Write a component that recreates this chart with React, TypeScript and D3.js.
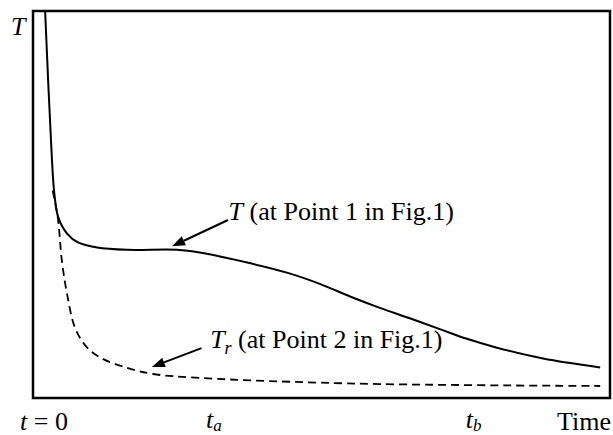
import React from "react";
import * as d3 from "d3";

const width = 613;
const height = 435;
const margin = { top: 11, right: 3, bottom: 37, left: 33 };

// time (0-100) vs temperature (0-100)
const solidTime = [2.1, 3.2, 3.7, 4.4, 5.9, 7.8, 11.1, 16.3, 25.0, 28.9, 37.1, 44.0, 49.7, 55.5, 60.1, 65.3, 70.5, 75.2, 80.4, 88.4, 98.3];
const solidTemp = [100, 64.0, 52.8, 46.6, 42.5, 40.2, 38.9, 38.3, 38.3, 37.6, 35.0, 32.4, 29.5, 25.9, 23.3, 20.6, 17.8, 15.3, 13.0, 10.2, 7.9];

const dashTime = [3.4, 4.3, 5.0, 5.9, 7.3, 9.4, 12.1, 16.3, 20.8, 28.9, 40.6, 60.1, 98.3];
const dashTemp = [53.6, 46.6, 35.5, 26.9, 18.1, 13.0, 10.1, 7.8, 6.2, 5.2, 4.4, 3.6, 3.1];

// tick labels along the time axis
const tickTimes = [0, 30, 75];
const tickNames = ["t = 0", "t_a", "t_b"];

const font = "Liberation Serif, Times New Roman, serif";
const fs = 26;

const Arrow = ({ x1, y1, x2, y2 }: { x1: number; y1: number; x2: number; y2: number }) => {
  const ang = Math.atan2(y2 - y1, x2 - x1);
  const len = 13;
  const w = 5;
  const bx = x2 - len * Math.cos(ang);
  const by = y2 - len * Math.sin(ang);
  const px = -Math.sin(ang) * w;
  const py = Math.cos(ang) * w;
  return (
    <g>
      <line x1={x1} y1={y1} x2={bx} y2={by} stroke="#000" strokeWidth={2} />
      <polygon points={`${x2},${y2} ${bx + px},${by + py} ${bx - px},${by - py}`} fill="#000" />
    </g>
  );
};

const TickLabel = ({ name, x }: { name: string; x: number }) => {
  if (name.includes("_")) {
    const [base, sub] = name.split("_");
    return (
      <text x={x} y={428} fontSize={fs} fontFamily={font}>
        <tspan fontStyle="italic">{base}</tspan>
        <tspan fontStyle="italic" fontSize={17} dy={3}>{sub}</tspan>
      </text>
    );
  }
  return (
    <text x={x} y={430} fontSize={fs} fontFamily={font}>
      <tspan fontStyle="italic">t</tspan> = 0
    </text>
  );
};

export default function App() {
  const x = d3.scaleLinear().domain([0, 100]).range([margin.left, width - margin.right]);
  const y = d3.scaleLinear().domain([0, 100]).range([height - margin.bottom, margin.top]);

  const line = d3
    .line<[number, number]>()
    .x((d) => x(d[0]))
    .y((d) => y(d[1]))
    .curve(d3.curveCatmullRom.alpha(0.5));

  const solid = solidTime.map((t, i) => [t, solidTemp[i]] as [number, number]);
  const dashed = dashTime.map((t, i) => [t, dashTemp[i]] as [number, number]);

  return (
    <svg width={width} height={height} style={{ position: "absolute", left: 0, top: 0 }}>
      <rect width={width} height={height} fill="#fff" />
      <defs>
        <clipPath id="plot">
          <rect x={margin.left} y={margin.top} width={width - margin.left - margin.right} height={height - margin.top - margin.bottom} />
        </clipPath>
      </defs>
      <g clipPath="url(#plot)">
        <path d={line(solid) || ""} fill="none" stroke="#000" strokeWidth={2} />
        <path d={line(dashed) || ""} fill="none" stroke="#000" strokeWidth={1.8} strokeDasharray="8,5" />
      </g>
      <rect
        x={margin.left}
        y={margin.top}
        width={width - margin.left - margin.right}
        height={height - margin.top - margin.bottom}
        fill="none"
        stroke="#000"
        strokeWidth={2.5}
      />

      {/* annotations */}
      <Arrow x1={x(33.8)} y1={y(46.0)} x2={x(24.1)} y2={y(39.2)} />
      <text x={x(33.9)} y={220} fontSize={fs} fontFamily={font}>
        <tspan fontStyle="italic">T</tspan> (at Point 1 in Fig.1)
      </text>
      <Arrow x1={x(29.2)} y1={y(12.9)} x2={x(20.6)} y2={y(8.0)} />
      <text x={x(30.7)} y={348} fontSize={fs} fontFamily={font}>
        <tspan fontStyle="italic">T</tspan>
        <tspan fontStyle="italic" fontSize={18} dy={6}>r</tspan>
        <tspan dy={-6}> (at Point 2 in Fig.1)</tspan>
      </text>

      <text x={11} y={35} fontSize={fs} fontFamily={font} fontStyle="italic">T</text>
      {tickTimes.map((t, i) => (
        <TickLabel key={i} name={tickNames[i]} x={x(t) - (t === 0 ? 13 : 0)} />
      ))}
      <text x={width - 2} y={430} fontSize={fs} fontFamily={font} textAnchor="end">Time</text>
    </svg>
  );
}
